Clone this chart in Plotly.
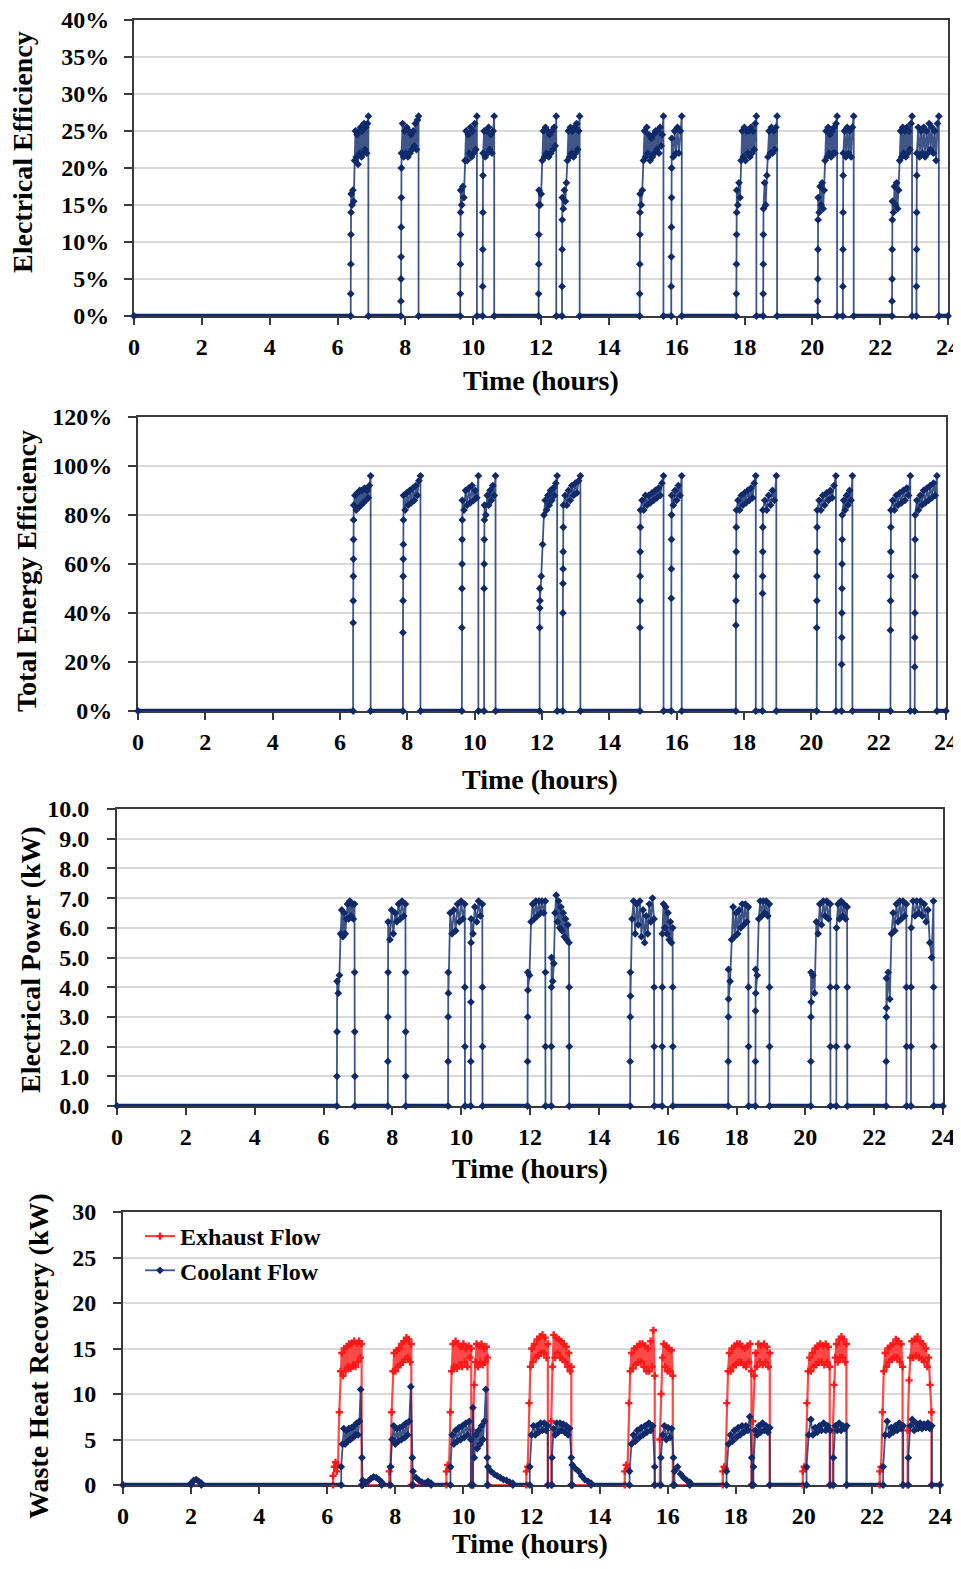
import numpy as np
import plotly.graph_objects as go

# page body has an 8px margin: the figure is sized/positioned to fill the 961x1569 window
PAGE_W, PAGE_H, OFF = 961, 1569, 8
W, H = PAGE_W - OFF, PAGE_H - 2 * OFF
FONT = "Liberation Serif"
NAVY = "#0f2a6a"
NAVY_LINE = "rgba(15,42,106,0.8)"
RED = "rgba(255,20,20,0.95)"
RED_LINE = "rgba(255,40,40,0.85)"

HOUR_TICKS = list(range(0, 25, 2))

# ---- run windows (hours) shared by panels 1-3 ----
RUN_START = [6.39, 7.87, 9.62, 10.28, 11.93, 12.62, 14.91, 15.84, 17.76, 18.55, 20.16, 20.90, 22.35, 23.07]
RUN_END = [6.91, 8.39, 10.11, 10.62, 12.45, 13.14, 15.61, 16.15, 18.35, 18.96, 20.73, 21.22, 22.94, 23.73]

# ---- panel 1: electrical efficiency (%) sampled within each run ----
ELEC_EFF = [
    [3, 7, 11, 14, 16.5, 15, 17, 15.5, 21, 25, 21.5, 24.5, 20.5, 25, 22, 25.5, 21.5, 25, 22, 26, 22.5, 25.5, 22, 26, 27],
    [2, 5, 8, 12, 16, 20, 22, 26, 21.5, 25, 22, 25.5, 21.5, 25, 22, 24.5, 22.5, 25, 23, 26, 22.5, 26.5, 27],
    [3, 7, 11, 14, 17, 15, 17.5, 16, 21, 25, 21, 24.5, 22, 25.5, 21.5, 25, 22, 26, 22.5, 27],
    [4, 9, 14, 19, 22, 25, 21.5, 25, 22, 25.5, 22.5, 24.5, 22, 25, 27],
    [3, 7, 11, 15, 17, 15, 16.5, 21, 25, 21.5, 25.5, 22, 25, 21.5, 24.5, 22, 25, 22.5, 25.5, 23, 27],
    [4, 9, 13, 16, 14.5, 17, 15.5, 18, 21, 25, 21.5, 25.5, 22, 25, 21.5, 25.5, 22, 26, 22.5, 25, 27],
    [3, 7, 11, 14, 16.5, 15, 17, 21, 25, 21.5, 25.5, 22, 24.5, 21, 24, 21.5, 24.5, 22, 25, 22.5, 25, 22, 25.5, 23, 24.5, 27],
    [4, 8, 12, 16, 20, 24, 21.5, 25, 22, 25.5, 22, 25, 27],
    [3, 7, 11, 14, 17, 15, 18, 16, 21, 25, 21.5, 25.5, 21, 25, 22, 25, 21.5, 25.5, 22, 25, 22.5, 26, 27],
    [3, 7, 11, 14.5, 18, 15, 19, 21.5, 25, 22, 25.5, 22, 25, 22.5, 25.5, 27],
    [2, 5, 9, 13, 16, 14, 17.5, 15, 18, 14.5, 17, 21, 25, 21.5, 25.5, 22, 24.5, 21.5, 25, 22, 25.5, 22, 26, 27],
    [4, 9, 14, 19, 22, 25, 21.5, 25.5, 22, 25, 21.5, 25.5, 27],
    [2, 5, 9, 13, 15.5, 14, 17.5, 15, 18, 14.5, 17, 21, 25, 21.5, 25.5, 22, 25, 21.5, 25.5, 22, 25, 22.5, 26, 27],
    [4, 9, 14, 19, 22, 25.5, 21.5, 25, 22, 25.5, 21.5, 25, 22, 26, 22.5, 25.5, 22, 25, 21, 26, 27],
]
ELEC_EFF_RISE = [4, 6, 4, 4, 4, 3, 4, 5, 4, 3, 4, 4, 4, 4]

# ---- panel 2: total energy efficiency (%) ----
TOTAL_EFF = [
    [36, 45, 55, 62, 70, 78, 84, 88, 82, 89, 83, 90, 84, 90, 85, 91, 86, 90, 87, 92, 96],
    [32, 45, 55, 62, 68, 78, 88, 82, 89, 84, 90, 85, 91, 86, 92, 88, 94, 96],
    [34, 50, 60, 70, 78, 86, 82, 90, 84, 91, 85, 92, 86, 90, 87, 96],
    [50, 60, 70, 78, 84, 80, 88, 84, 90, 86, 92, 88, 96],
    [34, 42, 50, 45, 55, 68, 80, 86, 82, 88, 84, 90, 86, 91, 88, 93, 96],
    [40, 52, 58, 65, 75, 84, 88, 84, 90, 86, 92, 88, 93, 89, 94, 96],
    [34, 45, 55, 65, 75, 82, 86, 82, 88, 84, 88, 85, 89, 86, 90, 87, 91, 88, 93, 96],
    [46, 58, 70, 80, 88, 84, 90, 86, 92, 88, 96],
    [35, 45, 55, 65, 75, 82, 86, 82, 88, 84, 89, 85, 90, 86, 91, 87, 93, 96],
    [48, 55, 65, 75, 82, 86, 82, 88, 84, 90, 86, 96],
    [34, 45, 55, 65, 75, 82, 86, 82, 88, 84, 89, 86, 90, 87, 92, 96],
    [19, 30, 40, 50, 60, 70, 80, 86, 82, 88, 84, 90, 86, 96],
    [33, 45, 55, 65, 75, 82, 86, 82, 88, 84, 89, 85, 90, 86, 91, 88, 96],
    [18, 30, 40, 55, 70, 80, 86, 82, 88, 84, 90, 85, 91, 86, 92, 87, 93, 88, 96],
]
TOTAL_EFF_RISE = [6, 6, 5, 4, 3, 5, 5, 4, 5, 4, 5, 6, 5, 5]

# ---- panel 3: electrical power (kW) ----
ELEC_POWER = [
    [1, 2.5, 4.2, 3.8, 4.4, 5.8, 6.6, 5.7, 6.5, 5.8, 6.3, 6.8, 6.3, 6.9, 6.4, 6.8, 6.3, 6.8, 4.5, 2.5, 1],
    [1.5, 3, 4.5, 6.2, 5.6, 6.6, 5.8, 6.5, 6.2, 6.8, 6.3, 6.9, 6.4, 6.8, 4.5, 2.5, 1],
    [1.5, 3, 4.5, 3.8, 6.5, 5.8, 6.6, 5.9, 6.8, 6.2, 6.9, 6.3, 6.8, 4, 2],
    [1.5, 3.5, 5.5, 6.3, 5.8, 6.7, 6.2, 6.9, 6.4, 6.8, 4, 2],
    [1.5, 3, 4.5, 3.9, 4.4, 6.2, 6.8, 6.3, 6.9, 6.4, 6.9, 6.5, 6.9, 6.5, 6.9, 4.5, 2],
    [2, 4, 5, 4.2, 4.8, 6.5, 7.1, 6.2, 6.9, 6.0, 6.7, 5.9, 6.5, 5.7, 6.3, 5.6, 6.1, 5.5, 4, 2],
    [1.5, 3, 4.5, 3.7, 6.3, 6.9, 5.8, 6.8, 6.1, 6.9, 5.7, 6.6, 5.5, 6.4, 5.8, 6.8, 6.2, 7.0, 6.3, 4, 2],
    [2, 4, 5.8, 6.8, 6.0, 6.7, 5.8, 6.5, 5.6, 6.2, 5.5, 6.0, 4, 2],
    [1.5, 3, 4.6, 3.6, 4.2, 5.6, 6.7, 5.7, 6.5, 5.8, 6.6, 6.0, 6.8, 6.1, 6.8, 6.2, 6.7, 4, 2],
    [1.5, 3.2, 4.6, 3.8, 4.4, 6.3, 6.9, 6.4, 6.9, 6.5, 6.9, 6.4, 6.8, 4, 2],
    [1.5, 3, 4.5, 3.5, 4.4, 3.8, 6.2, 5.8, 6.8, 6.1, 6.9, 6.4, 6.9, 6.3, 6.8, 4, 2],
    [2, 4, 6, 6.8, 6.3, 6.9, 6.4, 6.8, 6.3, 6.7, 4, 2],
    [1.5, 3, 4.3, 3.3, 4.5, 3.6, 5.8, 6.5, 5.9, 6.8, 6.2, 6.9, 6.3, 6.9, 6.4, 6.8, 4, 2],
    [2, 4, 6, 6.9, 6.4, 6.9, 6.5, 6.9, 6.4, 6.8, 6.2, 6.6, 5.5, 5.0, 6.9, 4, 2],
]
ELEC_POWER_RISE = [2, 3, 3, 3, 3, 2, 3, 2, 3, 3, 3, 2, 3, 2]
ELEC_POWER_FALL = [3, 3, 2, 2, 2, 2, 2, 2, 2, 2, 2, 2, 2, 2]

# ---- panel 4: waste heat recovery (kW) ----
EXH_START = [6.17, 7.82, 9.50, 10.28, 11.85, 12.58, 14.74, 15.77, 17.62, 18.50, 19.97, 20.85, 22.23, 23.05]
EXH_END = [7.01, 8.47, 10.23, 10.71, 12.48, 13.17, 15.62, 16.15, 18.46, 19.00, 20.76, 21.25, 22.90, 23.75]
EXHAUST = [
    [1, 2, 2.5, 1.5, 2.2, 8, 12.5, 14.5, 12, 15, 12.5, 15.2, 13, 15.5, 12.8, 15.6, 13.2, 15.8, 13, 15.6, 13.5, 15.8, 14, 15.5],
    [1.5, 2, 8, 12.5, 14.5, 12.5, 14.8, 13, 15, 13.2, 15.5, 13.5, 15.8, 13.8, 16.2, 14, 16, 13.5, 15.5],
    [1.5, 2.2, 1.8, 8, 12.5, 15.5, 13, 15.8, 12.8, 15.5, 13.2, 15.2, 13, 15.5, 13.5, 15, 13, 15.3, 14, 15],
    [6, 11, 13.5, 15.5, 13, 15.3, 13.5, 15.5, 13.2, 15, 13.5, 15.2, 14],
    [1.5, 2, 9, 13, 15, 13.5, 15.5, 14, 16, 14.2, 16.3, 14.5, 16.5, 14.5, 16.2, 14, 15.5],
    [7, 13, 16.5, 14, 16.2, 14.5, 16, 14, 15.8, 13.8, 15.5, 13.5, 15.2, 13, 14.5, 12.5, 13],
    [1.5, 2.2, 1.8, 9, 12.5, 14.5, 12.8, 15, 13.2, 15.2, 13.5, 15.5, 13.5, 15.5, 13, 15.3, 12.5, 15, 12.5, 15.8, 13, 17, 12],
    [5, 10, 14, 15.5, 13, 15.3, 12.5, 15, 12.5, 14.8, 12],
    [1.5, 2, 1.8, 9, 12.5, 14.5, 12.5, 15, 13, 15.3, 13.2, 15.5, 13.5, 15.5, 13.5, 15.2, 13.2, 15, 13, 15.3, 13.5, 15.5, 12.5],
    [7, 12, 14.5, 13, 15.5, 13.5, 15.3, 13.2, 15.5, 13.5, 15.2, 13, 14.5],
    [1.5, 2, 1.8, 9, 12.5, 14, 12.5, 14.5, 13, 15, 13.2, 15.3, 13.5, 15.5, 13.5, 15.3, 13.2, 15.5, 13.5, 15.2, 13],
    [6, 11, 14, 15.5, 13.5, 16, 14, 16.3, 14, 16, 13.5, 15.5],
    [1.5, 2, 8, 12.5, 14.5, 13, 15, 13.5, 15.3, 13.8, 15.5, 14, 16, 14, 15.8, 13.5, 15.5, 13],
    [6, 11.5, 14, 15.8, 14, 16, 14.2, 16.3, 14, 15.8, 13.8, 15.5, 13.5, 15, 13, 14, 11, 8],
]

COOL_START = [2.00, 6.41, 7.04, 7.86, 8.52, 9.62, 10.28, 10.72, 11.95, 12.60, 13.20, 14.88, 15.80, 16.20,
              17.73, 18.52, 20.08, 20.87, 22.33, 23.07]
COOL_END = [2.30, 7.02, 7.60, 8.50, 9.05, 10.22, 10.70, 11.45, 12.48, 13.17, 13.75, 15.62, 16.17, 16.65,
            18.47, 19.00, 20.77, 21.26, 22.92, 23.76]
COOLANT = [
    [0.2, 0.5, 0.6, 0.4, 0.2],
    [2, 4.5, 6.2, 4.5, 6, 4.8, 6.2, 5, 6.3, 5.2, 6.5, 5.5, 6.8, 5.5, 7, 10.5, 3],
    [0.5, 0.3, 0.4, 0.7, 0.9, 0.8, 0.6, 0.3],
    [2, 5, 6.5, 4.5, 6.2, 4.8, 6.3, 5, 6.5, 5.2, 6.8, 5.5, 7, 10.8, 3],
    [1.5, 0.8, 0.5, 0.3, 0.2, 0.4, 0.2],
    [2, 5.5, 4.5, 6, 4.8, 6.3, 5, 6.5, 5.2, 6.8, 5.5, 7, 5],
    [8.5, 3, 5.5, 4, 6, 4.5, 6.5, 5, 7, 10.5, 3],
    [2, 1.5, 1.2, 1, 0.8, 0.6, 0.5, 0.3, 0.2],
    [2, 5.5, 6.5, 5.5, 6.5, 5.8, 6.8, 6, 6.8, 6, 6.5],
    [3, 6.2, 5.5, 6.8, 5.8, 6.8, 6, 6.7, 5.8, 6.5, 5.5, 6.2, 3],
    [2.2, 1.8, 1.5, 1, 0.6, 0.4, 0.2],
    [1.5, 4.5, 5.5, 4.8, 6, 5.2, 6.3, 5.5, 6.5, 5.8, 6.8, 6, 6.5, 2],
    [3, 5.5, 6.5, 5, 6.3, 5.2, 6.2, 3],
    [1.5, 2, 1.2, 0.8, 0.5, 0.3],
    [1.5, 4.5, 5.5, 4.8, 6, 5.2, 6.3, 5.5, 6.5, 5.8, 6.5, 6, 7.5, 3],
    [2, 6, 5.5, 6.5, 5.8, 6.8, 6, 6.5, 5.8, 6.3],
    [2, 5.5, 7.2, 5.5, 6.3, 5.8, 6.5, 6, 6.8, 6, 6.5, 6],
    [3, 6.5, 6, 6.8, 6, 6.5, 6.2, 6.5],
    [2, 5.5, 7, 5.5, 6.3, 5.8, 6.5, 6, 6.8, 6.2, 6.5],
    [3, 6.5, 7.2, 6, 6.8, 6.2, 6.8, 6.2, 6.7, 6.3, 6.8, 6.2, 6.5],
]

PANELS = [
    dict(title="Electrical Efficiency", rng=[0, 40], dtick=5, suffix="%", fmt=None),
    dict(title="Total Energy Efficiency", rng=[0, 120], dtick=20, suffix="%", fmt=None),
    dict(title="Electrical Power (kW)", rng=[0, 10], dtick=1, suffix="", fmt=".1f"),
    dict(title="Waste Heat Recovery (kW)", rng=[0, 30], dtick=5, suffix="", fmt=None),
]

# page-pixel geometry of each plot area: (left, right, top, bottom)
BOXES = [(134, 948, 20, 316), (138, 946, 417, 711), (117, 943, 809, 1106), (123, 940, 1212, 1485)]
YLABEL_STANDOFF = [10, 11, 13, 12]
YTITLE_POS = [(22, 152), (26, 571), (31, 960), (38, 1356)]
XTITLE_POS = [(541, 380), (540, 780), (530, 1168), (530, 1543)]
LEGEND_POS = (140, 1214)


def px(x):
    return (x - OFF) / W


def py(y):
    return 1 - (y - OFF) / H


STEP = 0.003  # spacing of samples taken during a fast ramp (hours)


def run_times(s, e, n, rise, fall):
    mid_n = n - rise - fall
    t = [s + i * STEP for i in range(rise)]
    t += np.linspace(s + rise * STEP, e - fall * STEP, mid_n).tolist()
    t += [e - (fall - 1 - i) * STEP for i in range(fall)]
    return t


def build(starts, ends, vals, rises=None, falls=None):
    t, y = [0.0], [0.0]
    for k, (s, e, v) in enumerate(zip(starts, ends, vals)):
        r = rises[k] if rises else 0
        f = falls[k] if falls else 0
        t.append(s)
        y.append(0.0)
        t.extend(run_times(s, e, len(v), r, f))
        y.extend(v)
        t.append(e)
        y.append(0.0)
    t.append(24.0)
    y.append(0.0)
    return t, y


def baseline(y):
    return [0.0 if v == 0 else None for v in y]


fig = go.Figure()


def add_series(t, y, i, color, line_color, symbol, name=None, legend=False, base=True, msize=6, lw=1.8):
    ax = "" if i == 1 else str(i)
    fig.add_trace(go.Scatter(
        x=t, y=y, mode="lines+markers", name=name, showlegend=legend,
        line=dict(color=line_color, width=lw),
        marker=dict(color=color, size=msize, symbol=symbol, line=dict(width=0)),
        xaxis="x" + ax, yaxis="y" + ax, cliponaxis=False,
    ))
    if base:
        fig.add_trace(go.Scatter(
            x=t, y=baseline(y), mode="lines", showlegend=False, hoverinfo="skip",
            line=dict(color=color, width=4.5),
            xaxis="x" + ax, yaxis="y" + ax, cliponaxis=False,
        ))


t1, y1 = build(RUN_START, RUN_END, ELEC_EFF, ELEC_EFF_RISE)
add_series(t1, y1, 1, NAVY, NAVY_LINE, "diamond")
t2, y2 = build(RUN_START, RUN_END, TOTAL_EFF, TOTAL_EFF_RISE)
add_series(t2, y2, 2, NAVY, NAVY_LINE, "diamond")
t3, y3 = build(RUN_START, RUN_END, ELEC_POWER, ELEC_POWER_RISE, ELEC_POWER_FALL)
add_series(t3, y3, 3, NAVY, NAVY_LINE, "diamond")
t4e, y4e = build(EXH_START, EXH_END, EXHAUST)
add_series(t4e, y4e, 4, RED, RED_LINE, "cross", name="Exhaust Flow", legend=True, base=False, msize=6, lw=2.2)
t4c, y4c = build(COOL_START, COOL_END, COOLANT)
add_series(t4c, y4c, 4, NAVY, NAVY_LINE, "diamond", name="Coolant Flow", legend=True)

tick_font = dict(family=FONT, size=24, color="black", weight="bold")
title_font = dict(family=FONT, size=28, color="black", weight="bold")

layout = {}
annotations = []
for k, (p, box) in enumerate(zip(PANELS, BOXES), start=1):
    l, r, tp, bt = box
    ax = "" if k == 1 else str(k)
    layout["xaxis" + ax] = dict(
        domain=[px(l), px(r)], range=[0, 24], tickvals=HOUR_TICKS, anchor="y" + ax,
        showgrid=False, zeroline=False, showline=True, mirror=True, linecolor="#3a3a3a", linewidth=2,
        ticks="outside", ticklen=7, tickwidth=1.5, tickcolor="#3a3a3a", tickfont=tick_font,
        ticklabelstandoff=1, layer="below traces", automargin=False, ticklabeloverflow="allow",
    )
    yd = dict(
        domain=[py(bt), py(tp)], range=p["rng"], dtick=p["dtick"], anchor="x" + ax,
        showgrid=True, gridcolor="#d9d9d9", gridwidth=2, zeroline=False,
        showline=True, mirror=True, linecolor="#3a3a3a", linewidth=2,
        ticks="outside", ticklen=8, tickwidth=1.5, tickcolor="#3a3a3a", tickfont=tick_font,
        ticksuffix=p["suffix"], ticklabelstandoff=YLABEL_STANDOFF[k - 1], layer="below traces",
        automargin=False, ticklabeloverflow="allow",
    )
    if p["fmt"]:
        yd["tickformat"] = p["fmt"]
    layout["yaxis" + ax] = yd
    yx, yy = YTITLE_POS[k - 1]
    annotations.append(dict(text=p["title"], x=px(yx), y=py(yy), xref="paper", yref="paper",
                            textangle=-90, showarrow=False, font=title_font,
                            xanchor="center", yanchor="middle"))
    xx, xy = XTITLE_POS[k - 1]
    annotations.append(dict(text="Time (hours)", x=px(xx), y=py(xy), xref="paper", yref="paper",
                            showarrow=False, font=title_font, xanchor="center", yanchor="middle"))

fig.update_layout(
    width=W, height=H, margin=dict(l=0, r=0, t=0, b=0, autoexpand=False),
    paper_bgcolor="white", plot_bgcolor="white",
    annotations=annotations,
    legend=dict(x=px(LEGEND_POS[0]), y=py(LEGEND_POS[1]), xanchor="left", yanchor="top",
                font=dict(family=FONT, size=24, color="black", weight="bold"),
                bgcolor="rgba(0,0,0,0)", itemwidth=30, tracegroupgap=0),
    **layout,
)

fig.write_html("out.html")
